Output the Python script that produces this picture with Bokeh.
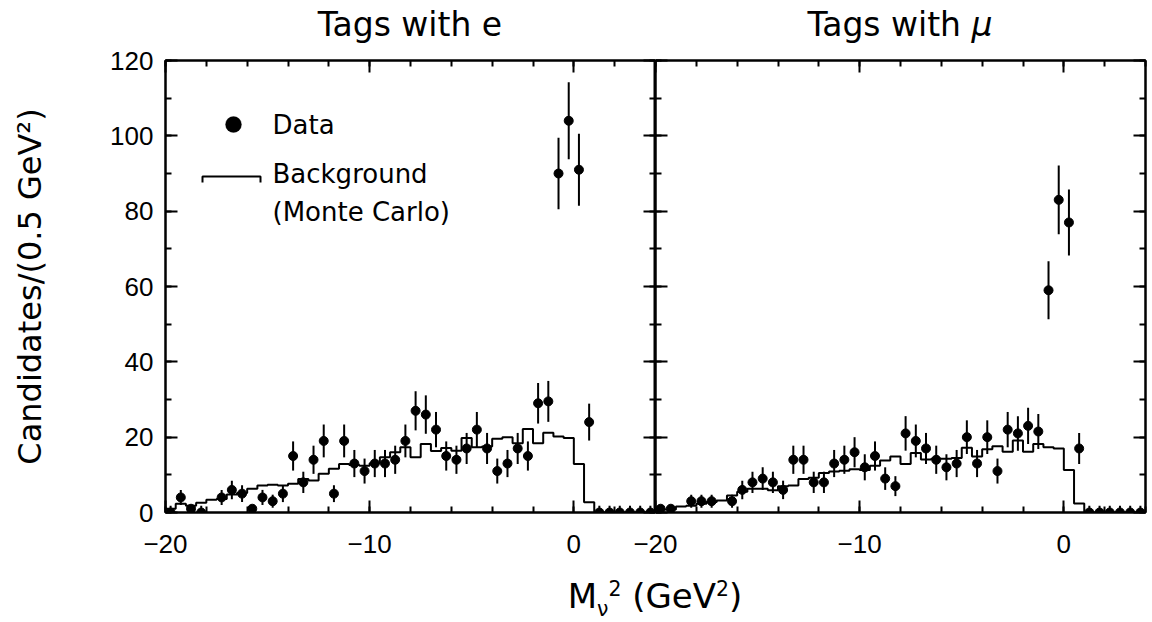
import math
from bokeh.plotting import figure
from bokeh.models import (Range1d, FixedTicker, LinearAxis, Label, BoxAnnotation,
                          PolyAnnotation, Div, ColumnDataSource)
from bokeh.layouts import row, column
from bokeh.embed import file_html
from bokeh.resources import INLINE

# ---------------- data ----------------
BIN_CENTERS = [-19.75, -19.25, -18.75, -18.25, -17.75, -17.25, -16.75, -16.25, -15.75, -15.25,
               -14.75, -14.25, -13.75, -13.25, -12.75, -12.25, -11.75, -11.25, -10.75, -10.25,
               -9.75, -9.25, -8.75, -8.25, -7.75, -7.25, -6.75, -6.25, -5.75, -5.25,
               -4.75, -4.25, -3.75, -3.25, -2.75, -2.25, -1.75, -1.25, -0.75, -0.25,
               0.25, 0.75, 1.25, 1.75, 2.25, 2.75, 3.25, 3.75]
BIN_HALF_WIDTH = 0.25

E_DATA = [0, 4, 1, 0, None, 4, 6, 5, 1, 4,
          3, 5, 15, 8, 14, 19, 5, 19, 13, 11,
          13, 13, 14, 19, 27, 26, 22, 15, 14, 17,
          22, 17, 11, 13, 17, 15, 29, 29.5, 90, 104,
          91, 24, 0, 0, 0, 0, 0, 0]
E_BKG = [1.0, 2.3, 1.8, 2.6, 3.4, 3.6, 4.8, 5.2, 6.3, 7.2,
         7.4, 7.2, 7.6, 8.9, 8.5, 10.3, 11.6, 12.9, 12.6, 12.4,
         13.1, 14.7, 16.0, 17.3, 14.7, 18.2, 16.3, 17.1, 16.4, 19.8,
         17.3, 17.5, 19.6, 20.0, 18.4, 22.2, 18.4, 21.2, 20.2, 19.8,
         12.9, 2.7, 0, 0, 0, 0, 0, 0]

M_DATA = [1, 1, None, 3, 3, 3, None, 3, 6, 8,
          9, 8, 6, 14, 14, 8, 8, 13, 14, 16,
          12, 15, 9, 7, 21, 19, 17, 14, 12, 13,
          20, 13, 20, 11, 22, 21, 23, 21.5, 59, 83,
          77, 17, 0, 0, 0, 0, 0, 0]
M_BKG = [0.8, 0.8, 1.6, 1.8, 2.3, 2.8, 3.2, 4.5, 5.5, 6.3,
         6.3, 5.9, 7.0, 7.2, 8.9, 9.2, 10.5, 10.9, 11.1, 11.5,
         11.3, 12.4, 13.8, 14.9, 12.9, 15.8, 14.1, 14.3, 14.3, 14.5,
         17.2, 14.9, 16.8, 17.6, 16.1, 19.1, 16.1, 18.2, 17.3, 17.0,
         11.3, 2.4, 0, 0, 0, 0, 0, 0]

ZERO_UPPER_ERR = 1.8   # upper error shown for empty bins

X_MAJOR = [-20, -10, 0]
X_MINOR = [-20, -18, -16, -14, -12, -10, -8, -6, -4, -2, 0, 2, 4]
Y_MAJOR = [0, 20, 40, 60, 80, 100, 120]
Y_MINOR = [0, 10, 20, 30, 40, 50, 60, 70, 80, 90, 100, 110, 120]
TITLES = ["Tags with e", "Tags with <i>\u03bc</i>"]

FONT = "DejaVu Sans"
TICK_FONT = "Liberation Sans"
FRAME_W = 490
FRAME_H = 452
TOP = 24


def style_axis(ax, labels):
    ax.axis_line_width = 2
    ax.axis_line_color = "black"
    ax.major_tick_in = 12
    ax.major_tick_out = 0
    ax.minor_tick_in = 6
    ax.minor_tick_out = 0
    ax.major_tick_line_width = 2
    ax.minor_tick_line_width = 2
    ax.major_label_text_font = TICK_FONT
    ax.major_label_text_font_size = "26px"
    ax.major_label_text_color = "black"
    if not labels:
        ax.major_label_text_color = None
        ax.major_label_text_font_size = "1px"
        ax.major_label_standoff = 0


def panel(data, bkg, bl, br, ylabel):
    p = figure(width=bl + FRAME_W + br, height=TOP + FRAME_H + 56,
               x_range=Range1d(-20, 4), y_range=Range1d(0, 120),
               output_backend="svg", toolbar_location=None,
               x_axis_location=None, y_axis_location=None,
               min_border_left=bl, min_border_right=br, min_border_top=TOP, min_border_bottom=56)
    p.xgrid.grid_line_color = None
    p.ygrid.grid_line_color = None
    p.outline_line_color = "black"
    p.outline_line_width = 2
    p.border_fill_color = None

    for side in ("below", "above"):
        ax = LinearAxis(ticker=FixedTicker(ticks=X_MAJOR, minor_ticks=X_MINOR))
        style_axis(ax, side == "below")
        if side == "below":
            ax.major_label_standoff = 22
            ax.major_label_overrides = {-20: "\u221220", -10: "\u221210", 0: "0"}
        p.add_layout(ax, side)
    for side in ("left", "right"):
        ax = LinearAxis(ticker=FixedTicker(ticks=Y_MAJOR, minor_ticks=Y_MINOR))
        style_axis(ax, side == "left" and ylabel)
        if side == "left" and ylabel:
            ax.major_label_standoff = 12
            ax.axis_label = "Candidates/(0.5 GeV\u00b2)"
            ax.axis_label_text_font = FONT
            ax.axis_label_text_font_size = "32px"
            ax.axis_label_text_font_style = "normal"
            ax.axis_label_text_color = "black"
            ax.axis_label_standoff = 58
        p.add_layout(ax, side)

    # background histogram (step)
    edges = [c - BIN_HALF_WIDTH for c in BIN_CENTERS] + [BIN_CENTERS[-1] + BIN_HALF_WIDTH]
    p.step(x=edges, y=list(bkg) + [bkg[-1]], mode="after", line_color="black", line_width=2)

    # data points with errors
    xs, ys, lo, hi = [], [], [], []
    for c, n in zip(BIN_CENTERS, data):
        if n is None:
            continue
        e = math.sqrt(n)
        xs.append(c)
        ys.append(n)
        lo.append(n - e)
        hi.append(n + e if n > 0 else ZERO_UPPER_ERR)
    src = ColumnDataSource(dict(x=xs, y=ys, lo=lo, hi=hi))
    p.segment(x0="x", y0="lo", x1="x", y1="hi", source=src, line_color="black", line_width=2)
    p.scatter(x="x", y="y", source=src, size=9, marker="circle",
              fill_color="black", line_color="black")
    return p


f1 = panel(E_DATA, E_BKG, 165, 0, True)
f2 = panel(M_DATA, M_BKG, 40, 2, False)
f1.margin = (-14, 0, 0, 0)
f2.margin = (-14, 0, 0, -40)

# legend (screen units, relative to the left frame)
f1.add_layout(BoxAnnotation(left=60, right=76, bottom=380, top=396,
                            left_units="screen", right_units="screen",
                            top_units="screen", bottom_units="screen",
                            fill_color="black", fill_alpha=1, line_color="black",
                            border_radius=8))
f1.add_layout(PolyAnnotation(xs=[37, 37, 95, 95, 95, 37], ys=[330, 336, 336, 330, 336, 336],
                             xs_units="screen", ys_units="screen",
                             fill_alpha=0, line_color="black", line_alpha=1, line_width=2))
for txt, yy in (("Data", 388), ("Background", 339), ("(Monte Carlo)", 301)):
    f1.add_layout(Label(x=107, y=yy, x_units="screen", y_units="screen", text=txt,
                        text_font=FONT, text_font_size="26px", text_baseline="middle",
                        text_color="black"))

title_style = {"text-align": "center", "font-size": "33px", "font-family": FONT,
               "color": "black", "line-height": "50px"}
t1 = Div(text=TITLES[0], width=FRAME_W, height=50, margin=(0, 0, 0, 165), styles=title_style)
t2 = Div(text=TITLES[1], width=FRAME_W, height=50, margin=(0, 0, 0, 0), styles=title_style)

xlabel = Div(text="M<sub style='font-size:0.6em'>\u03bd</sub><sup style='font-size:0.6em'>2</sup> (GeV<sup style='font-size:0.6em'>2</sup>)",
             width=980, margin=(4, 0, 0, 165),
             styles={"text-align": "center", "font-size": "34px", "font-family": FONT,
                     "color": "black"})

layout = column(row(t1, t2), row(f1, f2), xlabel)
open("out.html", "w").write(file_html(layout, INLINE))
